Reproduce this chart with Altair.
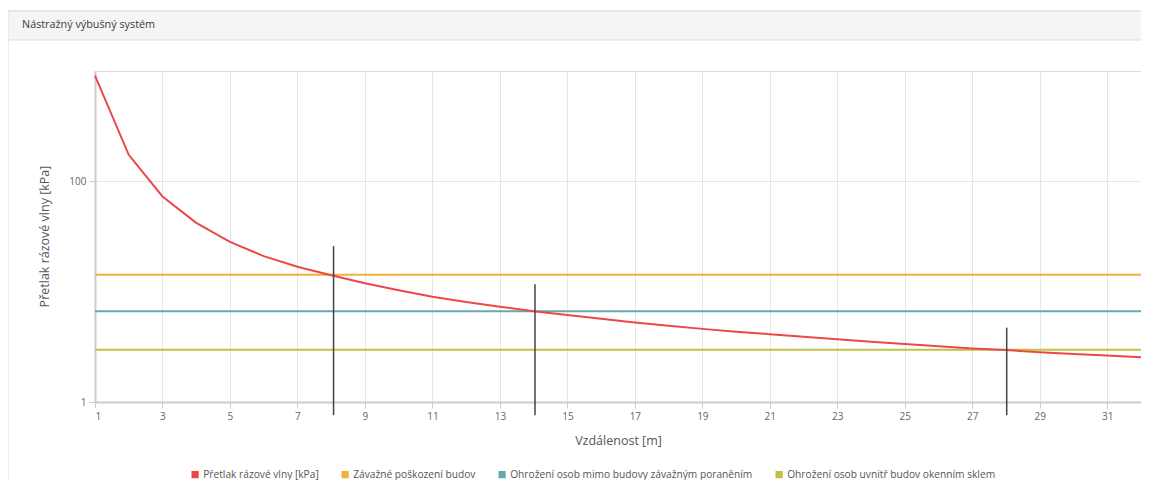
import altair as alt
import pandas as pd

TITLE = "Nástražný výbušný systém"
X_TITLE = "Vzdálenost [m]"
Y_TITLE = "Přetlak rázové vlny [kPa]"

SERIES = [
    "Přetlak rázové vlny [kPa]",
    "Závažné poškození budov",
    "Ohrožení osob mimo budovy závažným poraněním",
    "Ohrožení osob uvnitř budov okenním sklem",
]
COLORS = ["#ec4848", "#f5ae3c", "#6aa8ac", "#c3c143"]

distance = list(range(1, 33))
overpressure = [908, 174, 73, 42, 28.3, 21, 16.8, 14.1, 11.9, 10.3, 9.0, 8.05,
                7.3, 6.66, 6.15, 5.68, 5.25, 4.9, 4.6, 4.34, 4.12, 3.91, 3.71,
                3.52, 3.35, 3.2, 3.06, 2.96, 2.83, 2.73, 2.64, 2.55]

thresholds = [14.2, 6.64, 2.97]
cross_x = [8.07, 14.04, 28.02]
marker_top = [25.9, 11.7, 4.72]
marker_bottom = [0.76, 0.76, 0.76]

x_ticks = list(range(1, 32, 2))
y_ticks = [1, 100]

X_DOMAIN = [1, 32]
Y_DOMAIN = [1, 1000]

curve_df = pd.DataFrame({"x": distance, "y": overpressure, "s": SERIES[0]})
thr_rows = []
for name, val in zip(SERIES[1:], thresholds):
    for xv in X_DOMAIN:
        thr_rows.append({"x": xv, "y": val, "s": name})
thr_df = pd.DataFrame(thr_rows)
markers_df = pd.DataFrame({"x": cross_x, "y": marker_top, "y2": marker_bottom})
title_df = pd.DataFrame({"t": [TITLE]})

xscale = alt.Scale(domain=X_DOMAIN, nice=False, zero=False)
yscale = alt.Scale(type="log", domain=Y_DOMAIN, nice=False)
cscale = alt.Scale(domain=SERIES, range=COLORS)

FONT = "Open Sans"

W = 1046
H = 331

panel = alt.Chart(title_df).mark_rect(
    fill="transparent", stroke="#e0e0e0", strokeWidth=1
).encode(x=alt.value(-87), x2=alt.value(W + 20), y=alt.value(-60), y2=alt.value(H + 100))

header = alt.Chart(title_df).mark_rect(
    fill="#f5f5f5", stroke="#dddddd", strokeWidth=1
).encode(x=alt.value(-87), x2=alt.value(W + 20), y=alt.value(-60), y2=alt.value(-31))

header_text = alt.Chart(title_df).mark_text(
    align="left", baseline="middle", font=FONT, fontSize=10.8, color="#3a3a3a"
).encode(text="t:N", x=alt.value(-73), y=alt.value(-46))

xaxis = alt.Axis(
    values=x_ticks, title=X_TITLE, grid=True, gridColor="#e6e6e6",
    labelFontSize=10, labelColor="#666666", labelFont=FONT,
    titleFontSize=12.5, titleColor="#555555", titleFont=FONT, titleFontWeight="normal",
    titleY=32, titleBaseline="top",
    domainColor="#cccccc", domainWidth=2, tickColor="#cccccc", tickSize=6,
    labelPadding=3,
)
yaxis = alt.Axis(
    values=y_ticks, title=Y_TITLE, grid=True, gridColor="#e6e6e6", format="d",
    labelFontSize=10, labelColor="#666666", labelFont=FONT,
    titleFontSize=12.5, titleColor="#555555", titleFont=FONT, titleFontWeight="normal",
    titleX=-44, titleY=165, titleAngle=270, titleBaseline="bottom",
    domainColor="#cccccc", domainWidth=2, tickColor="#cccccc", tickSize=6,
    labelPadding=3,
)

legend = alt.Legend(
    title=None, orient="none", legendX=95, legendY=398, direction="horizontal",
    symbolType="square", symbolSize=13, symbolStrokeWidth=3.6,
    labelFont=FONT, labelFontSize=10.2, labelColor="#555555", labelLimit=400,
    columnPadding=17, labelOffset=3, columns=4,
)

thr = alt.Chart(thr_df).mark_line(strokeWidth=2).encode(
    x=alt.X("x:Q", scale=xscale, axis=xaxis),
    y=alt.Y("y:Q", scale=yscale, axis=yaxis),
    color=alt.Color("s:N", scale=cscale, legend=legend),
    detail="s:N",
)

curve = alt.Chart(curve_df).mark_line(strokeWidth=2).encode(
    x=alt.X("x:Q", scale=xscale),
    y=alt.Y("y:Q", scale=yscale),
    color=alt.Color("s:N", scale=cscale, legend=legend),
)

markers = alt.Chart(markers_df).mark_rule(color="#444444", strokeWidth=1.5).encode(
    x=alt.X("x:Q", scale=xscale),
    y=alt.Y("y:Q", scale=yscale),
    y2="y2:Q",
)

chart = alt.layer(panel, header, header_text, thr, curve, markers).properties(
    width=W, height=H,
    autosize=alt.AutoSizeParams(type="none"),
    padding={"left": 87, "top": 63, "right": 0, "bottom": 78},
).configure_view(stroke="#e6e6e6").configure(background="#ffffff")

chart.save("out.html", embed_options={"renderer": "svg", "actions": False})
